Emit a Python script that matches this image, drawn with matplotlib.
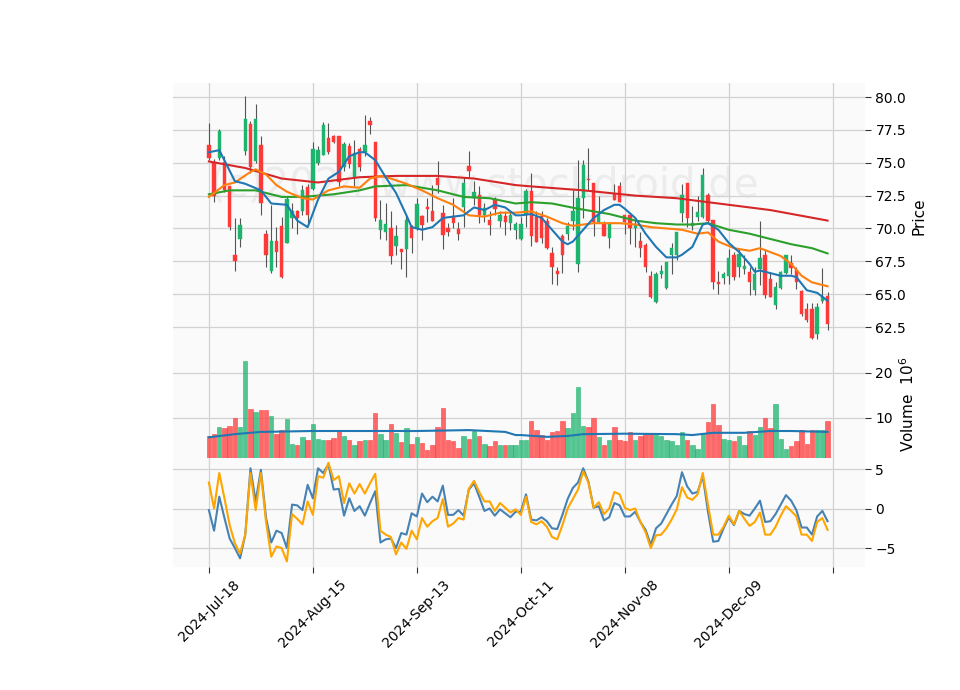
import numpy as np
import matplotlib
matplotlib.use("Agg")
import matplotlib.pyplot as plt

opens = [76.3,75.0,75.4,75.0,73.2,67.9,69.2,75.9,77.9,75.1,76.3,69.5,66.8,69.0,70.1,68.9,70.8,71.3,71.3,73.1,
         73.0,75.0,75.6,76.8,77.0,77.0,74.7,76.2,73.9,76.0,75.8,78.1,76.5,69.9,69.7,70.0,68.7,68.4,68.4,70.1,
         70.0,70.9,71.55,71.3,73.8,71.1,70.0,70.9,69.9,71.6,74.7,72.3,72.5,71.0,70.6,72.2,70.6,70.9,70.4,69.9,
         69.2,71.1,72.8,70.8,70.9,70.5,68.1,66.7,69.4,69.6,70.6,67.3,72.3,73.75,73.4,70.5,70.4,69.3,72.6,73.2,
         71.0,71.0,70.0,69.0,68.7,66.3,64.4,66.5,65.5,68.0,68.0,71.2,73.4,70.2,70.9,70.9,72.5,70.6,65.9,66.2,
         66.4,67.9,67.1,66.9,66.6,65.3,66.9,67.9,66.1,64.2,65.5,66.6,67.3,66.8,65.2,63.8,63.8,62.0,64.5,64.8]
closes = [75.4,72.5,77.4,72.9,70.1,67.5,70.2,78.3,74.7,78.3,71.9,68.0,69.0,68.2,66.3,72.2,71.3,70.8,72.9,71.0,
          76.0,75.9,77.8,75.8,76.6,73.5,76.4,74.9,75.7,74.7,76.3,77.9,70.8,70.6,70.3,67.9,69.4,68.2,70.6,69.3,
          71.8,70.3,71.45,70.6,73.3,69.5,69.7,70.4,69.6,73.4,74.4,72.7,71.0,71.5,70.3,71.5,71.0,70.5,71.0,70.3,
          70.3,72.8,69.4,69.0,69.3,68.5,67.1,66.5,68.0,70.1,71.3,72.3,74.8,73.65,70.5,71.0,69.4,70.3,72.2,72.0,
          70.5,70.0,70.3,68.5,67.1,64.8,66.5,66.7,67.4,68.5,69.7,72.5,70.8,70.4,71.2,74.0,70.6,65.9,65.8,66.5,
          67.7,66.3,68.0,67.1,65.9,66.5,67.7,64.9,64.8,65.5,66.6,67.9,67.0,65.9,63.5,63.0,61.7,64.0,64.7,62.7]
highs = [78.0,75.3,77.6,75.5,73.2,70.8,70.8,80.1,78.2,79.5,77.0,69.9,71.8,70.1,70.9,72.4,71.9,71.4,73.3,73.4,
         76.6,76.3,78.1,78.0,77.1,77.0,76.6,76.5,76.7,76.2,78.6,78.5,76.5,72.2,71.9,71.3,70.3,68.4,71.0,70.3,
         72.3,71.0,72.3,73.3,75.1,71.8,70.4,72.3,70.5,73.9,75.9,73.6,73.2,71.9,71.3,72.4,71.3,71.3,71.3,70.5,
         70.9,73.0,74.2,71.3,71.3,70.8,68.6,67.1,69.6,70.5,72.9,75.2,75.2,76.1,73.4,72.5,70.6,70.5,73.4,73.5,
         71.0,71.1,70.9,69.7,68.9,66.8,66.7,67.2,67.3,68.9,69.7,73.4,73.4,71.7,72.5,74.6,72.7,70.6,66.8,66.7,
         68.4,68.2,68.5,68.0,67.1,67.1,70.6,68.4,66.7,65.9,66.8,68.0,68.0,67.1,65.3,64.3,64.3,64.3,67.0,65.2]
lows = [75.2,72.0,75.2,72.8,69.9,66.8,68.6,75.6,74.2,75.0,71.0,67.1,66.6,67.1,66.2,68.9,70.0,69.6,71.0,70.4,
        72.9,74.8,75.6,75.7,76.5,73.2,74.4,74.6,73.2,74.4,75.5,77.2,70.6,69.2,69.1,67.3,68.0,66.9,66.3,68.1,
        69.9,69.1,70.5,70.6,72.7,68.4,69.4,70.0,69.1,70.1,73.9,71.8,70.4,70.5,69.5,71.0,70.1,69.5,69.9,69.2,
        69.1,70.1,68.7,69.0,68.9,68.4,65.8,65.7,66.6,69.1,69.9,66.7,70.8,72.9,69.4,70.4,69.5,68.5,72.2,72.0,
        69.6,68.8,68.6,67.8,66.7,64.7,64.3,66.2,65.4,66.5,67.6,70.5,70.1,69.9,70.6,70.8,70.5,65.4,65.0,65.8,
        65.8,66.1,66.3,66.5,64.9,64.9,65.7,64.7,64.8,63.9,65.4,66.5,66.5,65.4,63.3,62.9,61.6,61.6,64.3,62.3]
volumes = [5.85,6.4,7.8,7.6,8.2,9.8,7.8,22.5,12.0,11.2,11.6,11.6,10.4,6.4,7.3,9.6,4.2,4.0,5.6,5.1,
           8.5,5.3,5.1,5.1,5.4,7.3,5.85,5.1,3.8,4.7,5.0,5.0,11.0,6.3,5.0,8.5,6.5,4.5,7.6,4.2,
           5.6,4.4,2.7,4.0,8.0,12.2,5.1,4.7,3.3,5.8,5.3,6.9,6.0,4.2,3.6,4.7,3.8,3.8,3.8,4.0,
           5.1,5.0,9.3,7.3,6.2,5.1,6.7,6.9,9.3,7.6,10.9,16.7,8.2,8.0,10.0,5.6,4.0,5.1,7.8,5.1,
           4.7,6.7,5.0,5.8,6.4,6.4,6.2,5.8,5.1,4.7,4.0,6.7,5.1,3.8,2.9,6.4,8.9,13.1,8.4,5.3,
           4.9,4.7,5.8,4.0,7.1,6.2,7.8,9.8,7.6,12.9,5.3,3.1,3.6,4.7,7.3,4.2,7.3,7.3,7.3,9.3]

ma_blue_x = [0,2,5,7,10,12,15,17,19,21,23,25,27,29,30,32,34,36,38,39,41,43,45,47,49,51,53,55,57,59,
             60,62,64,66,68,69,70,72,74,76,78,79,80,82,84,86,88,90,91,93,95,96,98,100,102,104,105,106,108,110,112,113,115,117,119]
ma_blue_y = [75.8,75.96,73.6,73.4,72.9,71.9,71.8,70.6,70.1,72.2,73.8,74.3,75.5,75.8,75.8,75.2,73.9,72.7,71.0,70.1,69.9,70.1,70.8,70.9,71.0,71.6,71.4,71.8,71.6,71.0,
             71.0,71.1,70.8,69.9,69.0,68.8,69.0,69.9,70.8,71.4,71.8,71.8,71.5,70.8,69.6,68.6,67.8,67.8,68.0,68.6,70.3,70.4,69.9,68.9,68.2,67.3,66.7,66.8,66.6,66.4,66.4,66.3,65.3,65.1,64.5]
ma_orange_x = [0,3,5,8,9,11,13,15,18,20,23,26,29,31,33,35,38,41,44,47,50,53,56,59,62,65,68,70,72,74,77,79,82,85,88,91,94,96,98,101,104,106,108,110,112,114,116,118,119]
ma_orange_y = [72.4,73.3,73.5,74.3,74.5,74.1,73.3,72.8,72.3,72.2,72.9,73.2,73.1,73.8,74.0,73.8,73.4,72.9,72.3,71.8,71.0,70.9,71.2,71.2,71.3,70.9,70.4,70.2,70.3,70.4,70.4,70.4,70.3,70.1,70.0,69.9,69.6,69.7,69.0,68.5,68.3,68.5,68.2,67.9,67.3,66.4,65.9,65.7,65.6]
ma_green_x = [0,4,9,14,18,24,29,32,38,44,49,54,59,62,66,71,77,82,86,90,93,96,100,104,108,112,116,119]
ma_green_y = [72.6,72.9,72.9,72.4,72.4,72.6,72.9,73.2,73.3,72.9,72.4,72.3,71.9,72.0,71.9,71.5,71.1,70.6,70.4,70.3,70.3,70.4,69.9,69.6,69.2,68.8,68.5,68.1]
ma_red_x = [0,7,14,21,29,36,44,51,59,62,72,82,90,98,108,119]
ma_red_y = [75.1,74.6,73.8,73.5,73.9,74.0,74.0,73.8,73.3,73.2,72.9,72.5,72.3,71.9,71.4,70.6]

vol_ma_x = [0,5,10,20,40,50,57,59,60,65,69,72,80,90,93,97,103,108,112,119]
vol_ma_y = [5.6,6.3,6.8,7.0,7.0,7.2,6.8,6.1,6.1,5.7,5.9,6.3,6.4,6.3,6.1,6.6,6.6,7.0,7.0,6.8]

ind_blue = [-0.2,-2.8,1.5,-1.2,-3.8,-5.0,-6.3,-3.3,5.1,0.9,4.9,-1.2,-4.3,-2.8,-3.1,-5.0,0.5,0.4,-0.2,3.0,
            1.3,5.1,4.5,5.6,2.4,2.5,-0.9,1.3,-0.3,0.3,-0.9,0.7,2.2,-4.3,-3.9,-3.8,-5.0,-3.1,-3.3,-0.6,
            -1.0,1.9,0.8,1.5,0.9,2.9,-0.8,-0.8,-0.2,-0.9,2.4,3.2,1.5,-0.3,0.0,-0.9,-0.1,-0.6,-1.1,-0.4,
            -0.4,1.8,-1.4,-1.5,-1.1,-1.6,-2.5,-2.6,-0.8,1.2,2.6,3.3,5.1,3.4,0.1,0.3,-1.5,-1.1,0.7,0.4,
            -1.0,-1.0,-0.4,-1.7,-2.7,-4.6,-2.5,-1.9,-0.7,0.5,1.6,4.6,2.8,1.9,2.1,4.1,-0.4,-4.2,-4.1,-2.5,
            -1.1,-2.1,-0.3,-0.7,-0.9,0.0,1.0,-1.7,-1.6,-0.7,0.5,1.7,1.0,-0.2,-2.4,-2.4,-3.3,-1.0,-0.3,-1.6]
ind_orange = [3.3,0.0,4.5,1.3,-2.1,-4.4,-5.7,-3.3,4.5,-0.2,4.5,-1.7,-6.1,-4.8,-5.0,-6.7,-0.7,-1.3,-2.0,0.9,
              -0.8,4.1,3.9,5.8,3.6,4.1,0.7,3.2,1.9,3.1,1.9,3.2,4.4,-2.8,-3.3,-3.6,-5.8,-4.3,-5.1,-2.8,
              -3.9,-1.2,-2.3,-1.6,-1.2,1.2,-2.3,-1.9,-1.2,-1.4,2.5,3.5,2.1,0.9,0.9,-0.3,0.7,0.1,-0.5,-0.1,
              -0.8,1.5,-1.7,-2.0,-1.6,-2.3,-3.6,-3.9,-2.1,0.0,1.2,2.4,4.7,3.3,0.1,0.8,-0.7,0.0,2.1,1.8,
              0.1,-0.2,0.0,-1.7,-3.0,-5.0,-3.4,-3.3,-2.5,-1.4,-0.1,2.7,1.4,1.1,1.8,4.5,0.5,-3.3,-3.3,-2.3,
              -0.9,-2.0,-0.3,-1.3,-2.2,-1.7,-0.5,-3.3,-3.3,-2.3,-0.9,0.3,-0.3,-1.0,-3.3,-3.3,-4.1,-1.7,-1.2,-2.7]

tick_pos = [0, 20, 40, 60, 80, 100, 120]
tick_labels = ["2024-Jul-18", "2024-Aug-15", "2024-Sep-13", "2024-Oct-11", "2024-Nov-08", "2024-Dec-09", ""]

UP = "#1db46e"
DOWN = "#ff3838"
BG = "#fafafa"
GRID = "#d2d2d2"

fig = plt.figure(figsize=(9.6, 6.9), dpi=100)
L, W = 173/960, 692/960
ax1 = fig.add_axes([L, 340/690, W, 267/690])
ax2 = fig.add_axes([L, 232/690, W, 108/690], sharex=ax1)
ax3 = fig.add_axes([L, 123/690, W, 109/690], sharex=ax1)

x = np.arange(len(opens))
o = np.array(opens); c = np.array(closes)
h = np.maximum(np.array(highs), np.maximum(o, c))
lo = np.minimum(np.array(lows), np.minimum(o, c))
up = c >= o
cols = np.where(up, UP, DOWN)

for ax in (ax1, ax2, ax3):
    ax.set_facecolor(BG)
    ax.grid(True, color=GRID, linewidth=0.9)
    ax.set_axisbelow(True)
    for s in ax.spines.values():
        s.set_visible(False)
    ax.yaxis.tick_right()
    ax.yaxis.set_label_position("right")
    ax.tick_params(axis="both", length=4, color="#333333", labelsize=10)

ax1.text(53, 73.3, "(c)2024 www.stockdroid.de", fontsize=29, color="#ececec",
         ha="center", va="center", zorder=0.5)
ax1.vlines(x, lo, h, color="#555555", linewidth=0.8, zorder=2)
ax1.bar(x, np.abs(c - o) + 0.05, bottom=np.minimum(o, c), width=0.65, color=cols,
        edgecolor=cols, linewidth=0.3, zorder=3)
ax1.plot(ma_red_x, ma_red_y, color="#d62728", lw=1.5, zorder=4)
ax1.plot(ma_green_x, ma_green_y, color="#2ca02c", lw=1.5, zorder=4)
ax1.plot(ma_orange_x, ma_orange_y, color="#ff7f0e", lw=1.5, zorder=4)
ax1.plot(ma_blue_x, ma_blue_y, color="#1f77b4", lw=1.5, zorder=5)
ax1.set_ylim(60.75, 81.07)
ax1.set_yticks([62.5, 65, 67.5, 70, 72.5, 75, 77.5, 80])
ax1.set_yticklabels(["62.5", "65.0", "67.5", "70.0", "72.5", "75.0", "77.5", "80.0"])
ax1.set_ylabel("Price", fontsize=11)
plt.setp(ax1.get_xticklabels(), visible=False)

ax2.bar(x, volumes, width=0.85, color=cols, alpha=0.75, edgecolor=cols, linewidth=0.5)
ax2.plot(vol_ma_x, vol_ma_y, color="#1f77b4", lw=1.5)
ax2.set_ylim(1.0, 25.0)
ax2.set_yticks([10, 20])
ax2.set_ylabel("Volume  $10^{6}$", fontsize=11)
plt.setp(ax2.get_xticklabels(), visible=False)

ax3.plot(x, ind_blue, color="#4682b4", lw=1.5)
ax3.plot(x, ind_orange, color="#ffa500", lw=1.5)
ax3.set_ylim(-7.4, 6.4)
ax3.set_yticks([-5, 0, 5])
ax3.set_yticklabels(["\u22125", "0", "5"])

ax1.set_xlim(-6.9, 126.2)
ax3.set_xticks(tick_pos)
ax3.set_xticklabels(tick_labels, rotation=45, ha="center")

fig.savefig("out.png", dpi=100, facecolor="white")
